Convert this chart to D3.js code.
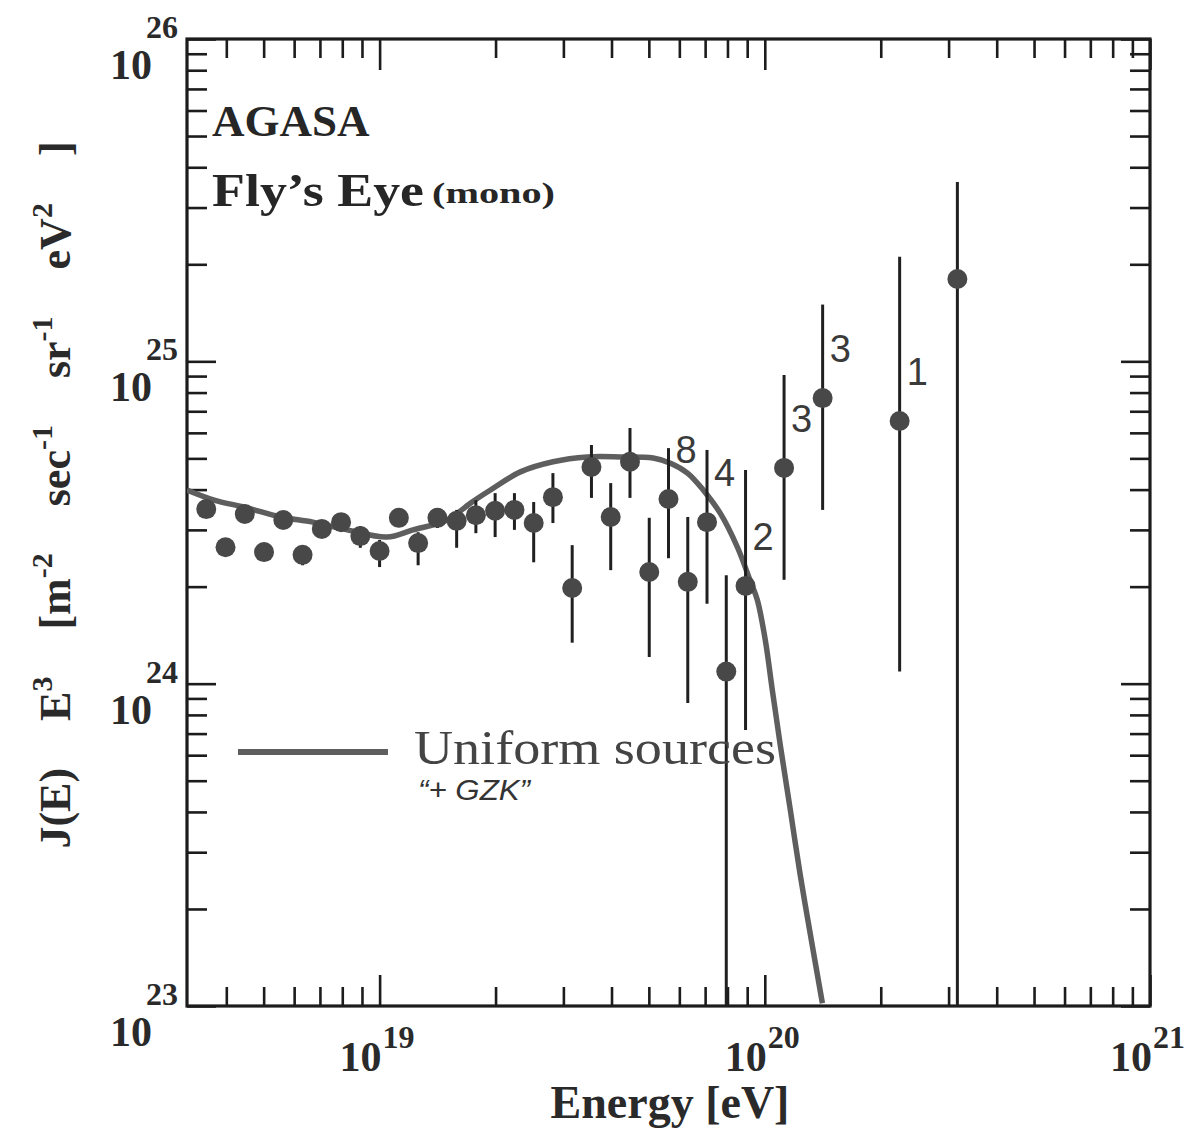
<!DOCTYPE html>
<html>
<head>
<meta charset="utf-8">
<script src="https://cdn.jsdelivr.net/npm/d3@7"></script>
<style>
  body { margin: 0; background: #fff; }
  svg { display: block; }
</style>
</head>
<body>
<svg id="chart" width="1201" height="1138"></svg>
<script>
// ---- AGASA spectrum, E^3 J(E) [m^-2 s^-1 sr^-1 eV^2] ----
const agasaEnergy = [3.548e18, 4.467e18, 5.623e18, 7.079e18, 8.913e18, 1.122e19, 1.413e19, 1.778e19, 2.239e19,
                     2.818e19, 3.548e19, 4.467e19, 5.623e19, 7.079e19, 8.913e19, 1.122e20, 1.413e20, 2.239e20];
const agasaFlux   = [3.48e24, 3.36e24, 3.22e24, 3.02e24, 2.87e24, 3.27e24, 3.27e24, 3.33e24, 3.46e24,
                     3.79e24, 4.70e24, 4.88e24, 3.74e24, 3.17e24, 2.01e24, 4.67e24, 7.69e24, 6.53e24];
const agasaUpper  = [3.69e24, 3.56e24, 3.41e24, 3.22e24, 3.08e24, 3.48e24, 3.48e24, 3.71e24, 3.90e24,
                     4.50e24, 5.50e24, 6.21e24, 5.38e24, 5.31e24, 4.60e24, 9.07e24, 1.50e25, 2.11e25];
const agasaLower  = [3.29e24, 3.17e24, 3.04e24, 2.83e24, 2.64e24, 3.06e24, 3.04e24, 2.93e24, 3.00e24,
                     3.15e24, 3.77e24, 3.77e24, 2.45e24, 1.77e24, 7.18e23, 2.10e24, 3.46e24, 1.09e24];
// number of events in the highest-energy bins
const agasaCounts = [null, null, null, null, null, null, null, null, null,
                     null, null, null, "8", "4", "2", "3", "3", "1"];

// ---- Fly's Eye (monocular) spectrum ----
const flyEnergy = [3.981e18, 5.012e18, 6.310e18, 7.943e18, 1.000e19, 1.259e19, 1.585e19, 1.995e19,
                   2.512e19, 3.162e19, 3.981e19, 5.012e19, 6.310e19, 7.943e19, 3.162e20];
const flyFlux   = [2.65e24, 2.56e24, 2.51e24, 3.17e24, 2.58e24, 2.73e24, 3.20e24, 3.44e24,
                   3.15e24, 1.98e24, 3.29e24, 2.22e24, 2.07e24, 1.09e24, 1.80e25];
const flyUpper  = [2.81e24, 2.73e24, 2.67e24, 3.38e24, 2.79e24, 2.95e24, 3.46e24, 3.90e24,
                   3.66e24, 2.69e24, 4.19e24, 3.27e24, 3.29e24, 2.17e24, 3.60e25];
const flyLower  = [2.49e24, 2.40e24, 2.33e24, 2.98e24, 2.30e24, 2.33e24, 2.64e24, 2.85e24,
                   2.38e24, 1.34e24, 2.25e24, 1.21e24, 8.71e23, 0, 0];

// ---- uniform-source model with GZK cutoff ----
const modelEnergy = [3.16e18, 3.70e18, 4.53e18, 5.52e18, 6.71e18, 8.24e18, 1.045e19, 1.22e19, 1.50e19,
                     1.72e19, 1.94e19, 2.32e19, 2.82e19, 3.46e19, 4.22e19, 5.13e19, 5.69e19, 6.30e19,
                     6.92e19, 7.66e19, 8.49e19, 9.16e19, 9.56e19, 1.003e20, 1.046e20, 1.097e20,
                     1.165e20, 1.236e20, 1.321e20, 1.411e20];
const modelFlux   = [3.99e24, 3.72e24, 3.51e24, 3.29e24, 3.17e24, 3.00e24, 2.85e24, 3.00e24, 3.22e24,
                     3.63e24, 3.99e24, 4.54e24, 4.88e24, 5.05e24, 5.05e24, 5.01e24, 4.83e24, 4.50e24,
                     3.99e24, 3.38e24, 2.65e24, 2.09e24, 1.82e24, 1.365e24, 9.55e23, 6.45e23,
                     4.05e23, 2.55e23, 1.60e23, 1.02e23];

const xDecades = [19, 20, 21];
const yDecades = [23, 24, 25, 26];

// ---- layout ----
const svg = d3.select("#chart");
const frame = { left: 187, top: 39, right: 1150, bottom: 1006 };
const ink = "#1c1c1c";
const serif = "'Liberation Serif', 'DejaVu Serif', serif";
const sans = "'Liberation Sans', Arial, sans-serif";

const x = d3.scaleLog().domain([Math.pow(10, 18.5), 1e21]).range([frame.left, frame.right]);
const y = d3.scaleLog().domain([1e23, 1e26]).range([frame.bottom, frame.top]);

const isDecade = v => Math.abs(Math.log10(v) - Math.round(Math.log10(v))) < 1e-6;
const xTicks = x.ticks().filter(v => v >= x.domain()[0] && v <= x.domain()[1]);
const yTicks = y.ticks();

svg.append("clipPath").attr("id", "plotClip")
  .append("rect")
  .attr("x", frame.left).attr("y", frame.top)
  .attr("width", frame.right - frame.left).attr("height", frame.bottom - frame.top);

// ---- inward ticks on all four sides ----
function tickAxis(axisFn, scale, values, size, transform) {
  const g = svg.append("g").attr("transform", transform)
    .call(axisFn(scale).tickValues(values).tickSizeInner(-size).tickSizeOuter(0).tickFormat(""));
  g.select(".domain").remove();
  g.selectAll(".tick line").attr("stroke", ink).attr("stroke-width", 2.6);
}
const xMinor = xTicks.filter(v => !isDecade(v)), xMajor = xTicks.filter(isDecade);
const yMinor = yTicks.filter(v => !isDecade(v)), yMajor = yTicks.filter(isDecade);
tickAxis(d3.axisBottom, x, xMinor, 19, `translate(0,${frame.bottom})`);
tickAxis(d3.axisBottom, x, xMajor, 31, `translate(0,${frame.bottom})`);
tickAxis(d3.axisTop, x, xMinor, 19, `translate(0,${frame.top})`);
tickAxis(d3.axisTop, x, xMajor, 31, `translate(0,${frame.top})`);
tickAxis(d3.axisLeft, y, yMinor, 20, `translate(${frame.left},0)`);
tickAxis(d3.axisLeft, y, yMajor, 29, `translate(${frame.left},0)`);
tickAxis(d3.axisRight, y, yMinor, 20, `translate(${frame.right},0)`);
tickAxis(d3.axisRight, y, yMajor, 29, `translate(${frame.right},0)`);

svg.append("rect")
  .attr("x", frame.left).attr("y", frame.top)
  .attr("width", frame.right - frame.left).attr("height", frame.bottom - frame.top)
  .attr("fill", "none").attr("stroke", ink).attr("stroke-width", 3.2);

// ---- tick labels: 10 with exponent ----
const lab = svg.append("g").attr("font-family", serif).attr("font-weight", "bold").attr("fill", "#2a2a2a");
yDecades.forEach(p => {
  const ty = y(Math.pow(10, p));
  lab.append("text").attr("x", 152).attr("y", ty + 40).attr("text-anchor", "end")
    .attr("font-size", 42).text("10");
  lab.append("text").attr("x", 146).attr("y", ty - 1)
    .attr("font-size", 32).text(p);
});
xDecades.forEach(p => {
  const tx = x(Math.pow(10, p));
  lab.append("text").attr("x", tx + 2).attr("y", 1071).attr("text-anchor", "end")
    .attr("font-size", 42).text("10");
  lab.append("text").attr("x", tx + 3).attr("y", 1048)
    .attr("font-size", 32).text(p);
});

// ---- axis titles ----
svg.append("text")
  .attr("x", 670).attr("y", 1118).attr("text-anchor", "middle")
  .attr("font-family", serif).attr("font-weight", "bold").attr("font-size", 46)
  .attr("fill", "#2a2a2a").text("Energy [eV]");

const yTitle = svg.append("text")
  .attr("transform", "translate(70,495) rotate(-90)")
  .attr("text-anchor", "middle")
  .attr("font-family", serif).attr("font-weight", "bold").attr("font-size", 44)
  .attr("fill", "#2a2a2a").style("word-spacing", "36px");
[["J(E) E", 0], ["3", 1], [" [m", 0], ["-2", 1], [" sec", 0], ["-1", 1], [" sr", 0], ["-1", 1], [" eV", 0], ["2", 1], [" ]", 0]]
  .forEach(([t, sup], i, arr) => {
    const prevSup = i > 0 ? arr[i - 1][1] : 0;
    yTitle.append("tspan")
      .attr("dy", sup && !prevSup ? -18 : (!sup && prevSup ? 18 : 0))
      .attr("font-size", sup ? 30 : 44)
      .text(t);
  });

// ---- model curve ----
const modelPts = modelEnergy.map((e, i) => [e, modelFlux[i]]);
svg.append("path")
  .attr("clip-path", "url(#plotClip)")
  .attr("d", d3.line().x(d => x(d[0])).y(d => y(d[1])).curve(d3.curveCatmullRom.alpha(0.5))(modelPts))
  .attr("fill", "none").attr("stroke", "#5e5e5e").attr("stroke-width", 5.5);

// ---- data points with error bars ----
function drawSeries(E, F, up, lo, counts) {
  const g = svg.append("g").attr("clip-path", "url(#plotClip)");
  E.forEach((e, i) => {
    const cx = x(e);
    g.append("line")
      .attr("x1", cx).attr("x2", cx)
      .attr("y1", y(up[i])).attr("y2", y(Math.max(lo[i], y.domain()[0])))
      .attr("stroke", "#202020").attr("stroke-width", 3);
    g.append("circle").attr("cx", cx).attr("cy", y(F[i])).attr("r", 10).attr("fill", "#484848");
    if (counts && counts[i]) {
      svg.append("text").attr("x", cx + 7).attr("y", y(F[i]) - 36)
        .attr("font-family", sans).attr("font-size", 38).attr("fill", "#3a3a3a")
        .text(counts[i]);
    }
  });
}
drawSeries(flyEnergy, flyFlux, flyUpper, flyLower, null);
drawSeries(agasaEnergy, agasaFlux, agasaUpper, agasaLower, agasaCounts);

// ---- labels inside the frame ----
const txt = svg.append("g").attr("font-family", serif).attr("fill", "#262626");
txt.append("text").attr("x", 212).attr("y", 136).attr("font-weight", "bold").attr("font-size", 45).text("AGASA");
txt.append("text").attr("x", 212).attr("y", 206).attr("font-weight", "bold").attr("font-size", 46)
  .attr("textLength", 212).attr("lengthAdjust", "spacingAndGlyphs").text("Fly\u2019s Eye");
txt.append("text").attr("x", 432).attr("y", 203).attr("font-weight", "bold").attr("font-size", 30)
  .attr("textLength", 123).attr("lengthAdjust", "spacingAndGlyphs").text("(mono)");

// legend
svg.append("line").attr("x1", 238).attr("x2", 388).attr("y1", 752).attr("y2", 752)
  .attr("stroke", "#5e5e5e").attr("stroke-width", 6);
txt.append("text").attr("x", 414).attr("y", 764).attr("font-size", 48).attr("fill", "#444")
  .attr("textLength", 362).attr("lengthAdjust", "spacingAndGlyphs").text("Uniform sources");
txt.append("text").attr("x", 418).attr("y", 800).attr("font-family", sans).attr("font-style", "italic")
  .attr("font-size", 30).attr("fill", "#333")
  .attr("textLength", 112).attr("lengthAdjust", "spacingAndGlyphs").text("\u201C+ GZK\u201D");
</script>
</body>
</html>
